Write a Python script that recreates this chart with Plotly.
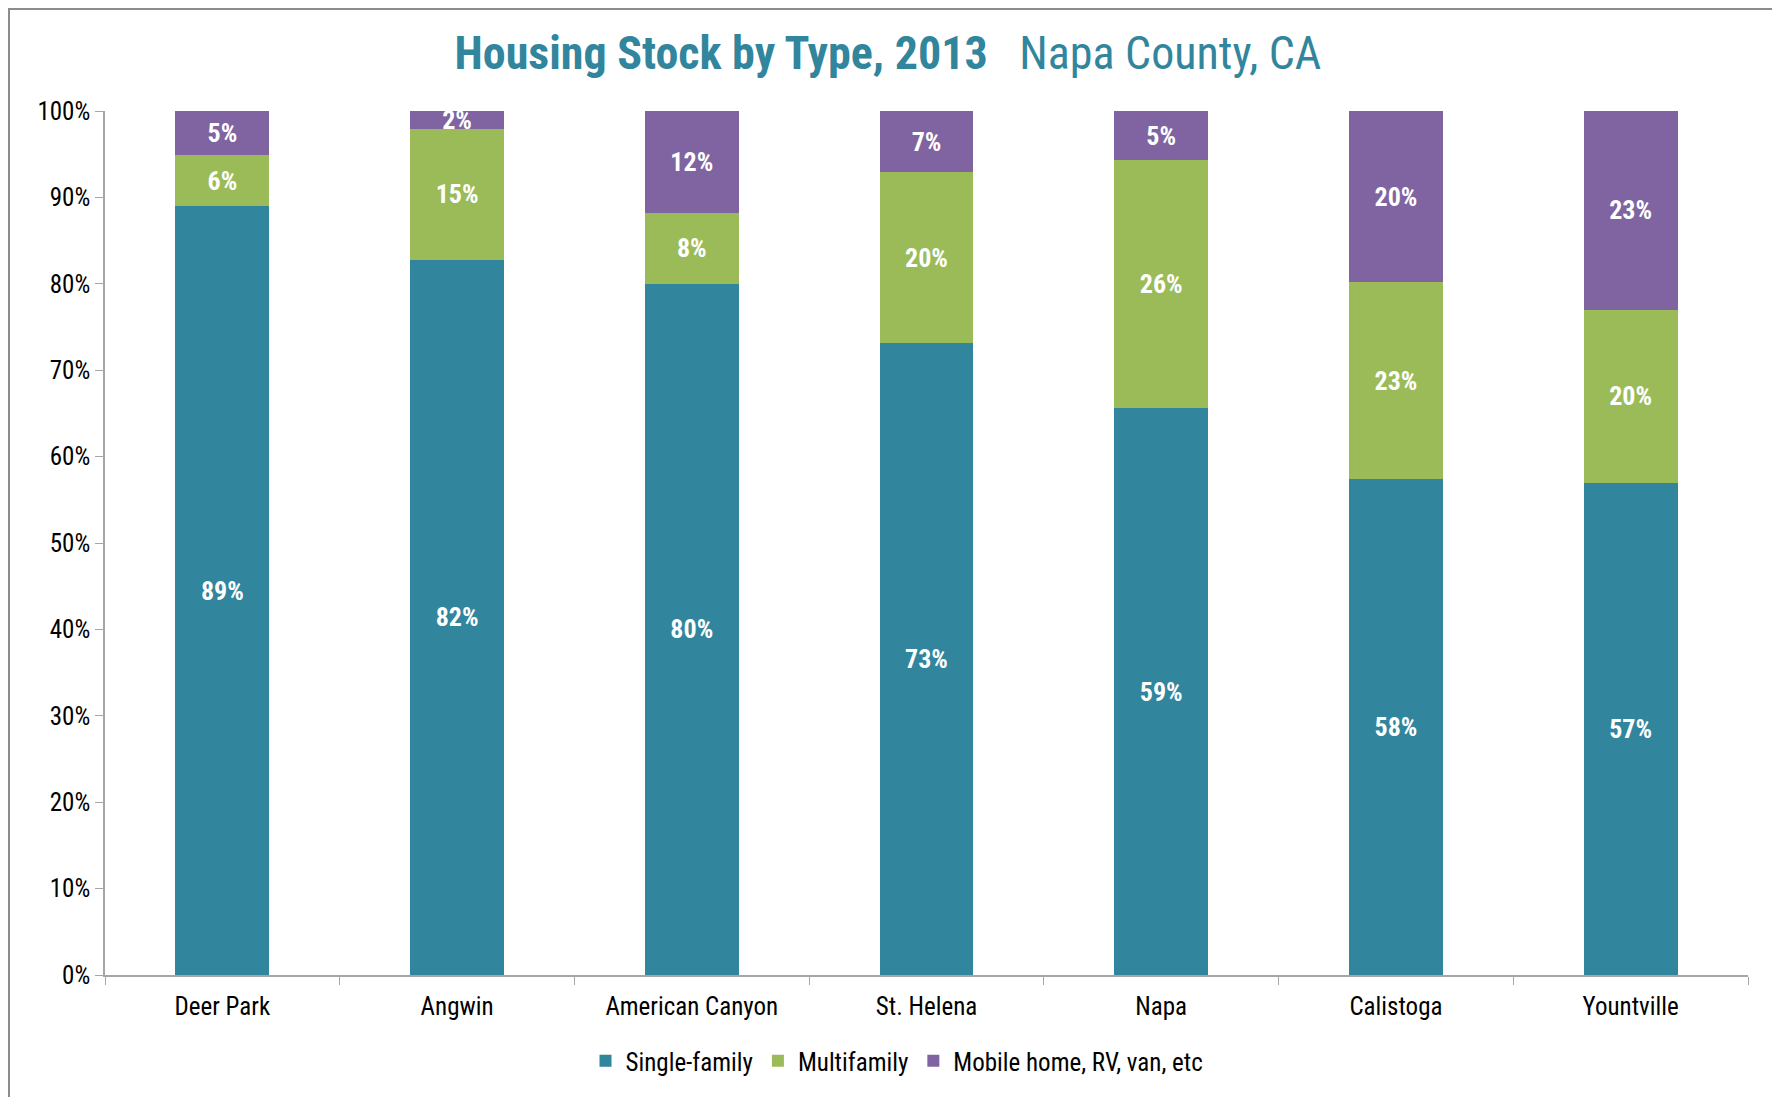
import plotly.graph_objects as go

categories = ["Deer Park", "Angwin", "American Canyon", "St. Helena", "Napa", "Calistoga", "Yountville"]
single_family = [89.0, 82.8, 80.0, 73.1, 65.6, 57.4, 57.0]
multifamily = [5.9, 15.1, 8.2, 19.8, 28.7, 22.8, 20.0]
mobile_home = [5.1, 2.1, 11.8, 7.1, 5.7, 19.8, 23.0]
single_family_labels = ["89%", "82%", "80%", "73%", "59%", "58%", "57%"]
multifamily_labels = ["6%", "15%", "8%", "20%", "26%", "23%", "20%"]
mobile_home_labels = ["5%", "2%", "12%", "7%", "5%", "20%", "23%"]
y_ticks = [0, 10, 20, 30, 40, 50, 60, 70, 80, 90, 100]
y_tick_labels = ["0%", "10%", "20%", "30%", "40%", "50%", "60%", "70%", "80%", "90%", "100%"]

FONT = "Liberation Sans Narrow, Arial Narrow, Roboto Condensed, Liberation Sans, Arial, sans-serif"

series = [
    ("Single-family", single_family, single_family_labels, "#31859C"),
    ("Multifamily", multifamily, multifamily_labels, "#9BBB59"),
    ("Mobile home, RV, van, etc", mobile_home, mobile_home_labels, "#8064A2"),
]

W, H = 1772, 1089
L, R, T, B = 97, 32, 103, 122
PW = W - L - R
PH = H - T - B

fig = go.Figure()
for name, vals, labels, color in series:
    fig.add_trace(go.Bar(
        x=categories, y=vals, name=name,
        marker=dict(color=color, line=dict(width=0)),
        text=labels, textposition="inside", insidetextanchor="middle",
        constraintext="none", cliponaxis=False,
        textfont=dict(family=FONT, size=26, color="white", weight="bold"),
        textangle=0,
    ))

fig.update_layout(
    barmode="stack",
    bargap=0.6,
    width=W, height=H,
    margin=dict(l=L, r=R, t=T, b=B),
    paper_bgcolor="white", plot_bgcolor="white",
    font=dict(family=FONT, size=25, color="black"),
    title=dict(
        text="<b>Housing Stock by Type, 2013</b>   Napa County, CA",
        x=880 / W, xref="container", xanchor="center",
        y=1 - 45 / H, yref="container", yanchor="middle",
        font=dict(family=FONT, size=46, color="#31859C"),
    ),
    legend=dict(
        orientation="h", x=889 / W, xref="container", xanchor="center",
        y=1 - 1053 / H, yref="container", yanchor="middle",
        font=dict(family=FONT, size=25, color="black"),
        itemwidth=30, traceorder="normal",
    ),
    showlegend=True,
    shapes=[dict(type="rect", xref="paper", yref="paper",
                 x0=(1 - L) / PW, x1=(1765 - L) / PW,
                 y0=-0.5, y1=1 + (T - 1) / PH,
                 line=dict(color="#8C8C8C", width=2), layer="below")],
)

fig.update_yaxes(
    range=[0, 100], tickvals=y_ticks, ticktext=y_tick_labels,
    showgrid=False, zeroline=False,
    showline=True, linecolor="#A6A6A6", linewidth=1.5,
    ticks="outside", ticklen=8, tickcolor="#A6A6A6",
    tickfont=dict(family=FONT, size=25, color="black"),
)
fig.update_xaxes(
    showgrid=False, showline=True, linecolor="#A6A6A6", linewidth=1.5,
    ticks="outside", ticklen=8, tickcolor="#A6A6A6", tickson="boundaries",
    tickfont=dict(family=FONT, size=25, color="black"),
    ticklabelstandoff=8,
)

fig.write_html("out.html")
